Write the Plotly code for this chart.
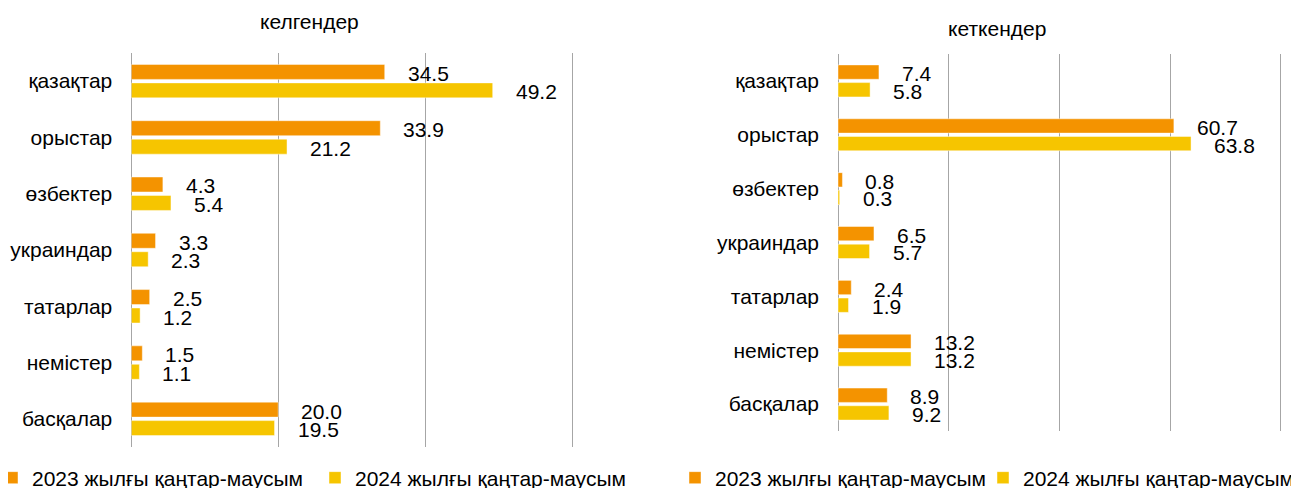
import plotly.graph_objects as go

categories = ['қазақтар', 'орыстар', 'өзбектер', 'украиндар', 'татарлар', 'немістер', 'басқалар']
arrived_2023 = [34.5, 33.9, 4.3, 3.3, 2.5, 1.5, 20.0]
arrived_2024 = [49.2, 21.2, 5.4, 2.3, 1.2, 1.1, 19.5]
departed_2023 = [7.4, 60.7, 0.8, 6.5, 2.4, 13.2, 8.9]
departed_2024 = [5.8, 63.8, 0.3, 5.7, 1.9, 13.2, 9.2]
series_names = ['2023 жылғы қаңтар-маусым', '2024 жылғы қаңтар-маусым']
panel_titles = ['келгендер', 'кеткендер']
left_ticks = [0, 20, 40, 60]
right_ticks = [0, 20, 40, 60, 80]

ORANGE = '#F49300'
YELLOW = '#F6C500'
FONT = 'Liberation Sans, Arial, sans-serif'
FS = 21
W, H = 1299, 488
# the page body adds an 8px offset; positions below are screen pixels minus that offset
OFF = 8

BAR_W = 0.266
OFF_TOP = -0.297
OFF_BOT = 0.031

fig = go.Figure()

def add_panel(v23, v24, xa, ya, leg_a, leg_b):
    fig.add_trace(go.Bar(y=categories, x=v23, orientation='h', name=series_names[0],
                         marker=dict(color=ORANGE, line=dict(color='rgba(255,255,255,0.45)', width=1)),
                         width=BAR_W, offset=OFF_TOP, xaxis=xa, yaxis=ya,
                         legend=leg_a, hoverinfo='x+y'))
    fig.add_trace(go.Bar(y=categories, x=v24, orientation='h', name=series_names[1],
                         marker=dict(color=YELLOW, line=dict(color='rgba(255,255,255,0.45)', width=1)),
                         width=BAR_W, offset=OFF_BOT, xaxis=xa, yaxis=ya,
                         legend=leg_b, hoverinfo='x+y'))

add_panel(arrived_2023, arrived_2024, 'x', 'y', 'legend', 'legend2')
add_panel(departed_2023, departed_2024, 'x2', 'y2', 'legend3', 'legend4')

# screen pixel geometry (x0, x1, ytop, ybottom); small pad so the last gridline is drawn
L1 = (131.3, 573.5, 53, 447)
L2 = (838.0, 1281.8, 54, 431)
R1 = [0, 60.2]
R2 = [0, 80.2]

def px_x(v):
    return (v - OFF) / W

def px_y(v):
    return 1 - (v - OFF) / H

def dom_x(g):
    return [px_x(g[0]), px_x(g[1])]

def dom_y(g):
    return [px_y(g[3]), px_y(g[2])]

annotations = []
def add_labels(v23, v24, xref, yref, g):
    band = (g[3] - g[2]) / len(categories)
    c_top = (OFF_TOP + BAR_W / 2) * band
    c_bot = (OFF_BOT + BAR_W / 2) * band
    for cat, a, b in zip(categories, v23, v24):
        annotations.append(dict(x=a, y=cat, xref=xref, yref=yref, text=f'{a:.1f}',
                                showarrow=False, xanchor='left', yanchor='middle',
                                xshift=21, yshift=-(c_top + 1.5),
                                font=dict(family=FONT, size=FS, color='#000')))
        annotations.append(dict(x=b, y=cat, xref=xref, yref=yref, text=f'{b:.1f}',
                                showarrow=False, xanchor='left', yanchor='middle',
                                xshift=21, yshift=-(c_bot + 1.5),
                                font=dict(family=FONT, size=FS, color='#000')))

add_labels(arrived_2023, arrived_2024, 'x', 'y', L1)
add_labels(departed_2023, departed_2024, 'x2', 'y2', L2)

annotations.append(dict(x=px_x(309), y=px_y(21), xref='paper', yref='paper', text=panel_titles[0],
                        showarrow=False, xanchor='center', yanchor='middle',
                        font=dict(family=FONT, size=FS, color='#000')))
annotations.append(dict(x=px_x(997), y=px_y(28), xref='paper', yref='paper', text=panel_titles[1],
                        showarrow=False, xanchor='center', yanchor='middle',
                        font=dict(family=FONT, size=FS, color='#000')))

xcommon = dict(showgrid=True, gridcolor='#A6A6A6', gridwidth=1, zeroline=True,
               zerolinecolor='#A6A6A6', zerolinewidth=1, showticklabels=False,
               ticks='', showline=False, fixedrange=True, automargin=False)
ycommon = dict(type='category', autorange='reversed', showgrid=False, zeroline=False,
               ticks='', showline=False, tickfont=dict(family=FONT, size=FS, color='#000'),
               ticklabelstandoff=18, fixedrange=True, automargin=False)

def leg(xpx):
    return dict(x=px_x(xpx), y=px_y(478), xanchor='left', yanchor='middle',
                orientation='h', bgcolor='rgba(0,0,0,0)', borderwidth=0,
                font=dict(family=FONT, size=FS, color='#000'), itemwidth=30)

fig.update_layout(
    width=W, height=H,
    margin=dict(l=0, r=0, t=0, b=0, autoexpand=False),
    paper_bgcolor='white', plot_bgcolor='white',
    barmode='overlay',
    showlegend=True,
    xaxis=dict(domain=dom_x(L1), range=R1, tickvals=left_ticks, anchor='y', **xcommon),
    yaxis=dict(domain=dom_y(L1), anchor='x', **ycommon),
    xaxis2=dict(domain=dom_x(L2), range=R2, tickvals=right_ticks, anchor='y2', **xcommon),
    yaxis2=dict(domain=dom_y(L2), anchor='x2', **ycommon),
    legend=leg(-8),
    legend2=leg(315),
    legend3=leg(675),
    legend4=leg(983),
    annotations=annotations,
)

fig.write_html('out.html')
